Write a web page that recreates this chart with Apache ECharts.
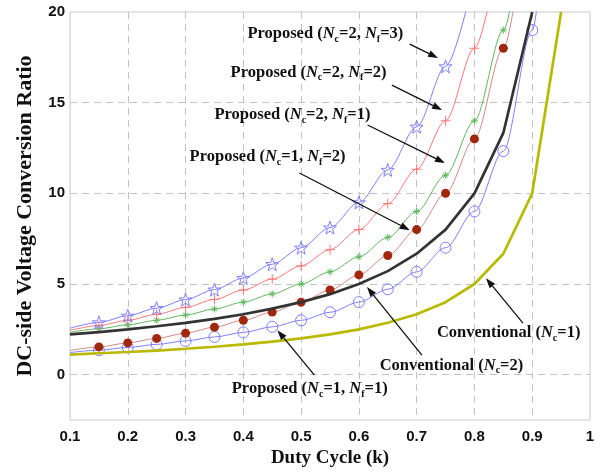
<!DOCTYPE html>
<html>
<head>
<meta charset="utf-8">
<script src="https://cdn.jsdelivr.net/npm/echarts@6/dist/echarts.min.js"></script>
<style>
  html, body { margin: 0; padding: 0; background: #ffffff; }
  #chart { width: 601px; height: 474px; }
</style>
</head>
<body>
<div id="chart"></div>
<script>
// Duty cycle k, sampled every 0.05
const dutyCycle = [0.10, 0.15, 0.20, 0.25, 0.30, 0.35, 0.40, 0.45, 0.50,
                   0.55, 0.60, 0.65, 0.70, 0.75, 0.80, 0.85, 0.90, 0.95];

// Voltage conversion ratio of each topology (same k sampling, curves run off the top at 20)
const conventionalNc1 = [1.11, 1.18, 1.25, 1.33, 1.43, 1.54, 1.67, 1.82, 2.00,
                         2.22, 2.50, 2.86, 3.33, 4.00, 5.00, 6.67, 10.0, 20.0];
const conventionalNc2 = [2.22, 2.35, 2.50, 2.67, 2.86, 3.08, 3.33, 3.64, 4.00,
                         4.44, 5.00, 5.71, 6.67, 8.00, 10.0, 13.33, 20.0];
const proposedNc1Nf1 = [1.22, 1.35, 1.50, 1.67, 1.86, 2.08, 2.33, 2.64, 3.00,
                        3.44, 4.00, 4.71, 5.67, 7.00, 9.00, 12.33, 19.0, 39.0];
const proposedNc1Nf2 = [1.33, 1.53, 1.75, 2.00, 2.29, 2.62, 3.00, 3.45, 4.00,
                        4.67, 5.50, 6.57, 8.00, 10.0, 13.0, 18.0, 28.0];
const proposedNc2Nf1 = [2.33, 2.53, 2.75, 3.00, 3.29, 3.62, 4.00, 4.45, 5.00,
                        5.67, 6.50, 7.57, 9.00, 11.0, 14.0, 19.0, 29.0];
const proposedNc2Nf2 = [2.44, 2.71, 3.00, 3.33, 3.71, 4.15, 4.67, 5.27, 6.00,
                        6.89, 8.00, 9.43, 11.33, 14.0, 18.0, 24.67];
const proposedNc2Nf3 = [2.56, 2.88, 3.25, 3.67, 4.14, 4.69, 5.33, 6.09, 7.00,
                        8.11, 9.50, 11.29, 13.67, 17.0, 22.0];

// Axis ticks
const xTicks = [0.1, 0.2, 0.3, 0.4, 0.5, 0.6, 0.7, 0.8, 0.9, 1];
const yTickLabels = [0, 5, 10, 15, 20];
const yGridLines = [0, 5, 10, 15];

const serif = '"Liberation Serif", "Times New Roman", serif';
const sans = '"Liberation Sans", Arial, sans-serif';

const BLUE = '#7f7fff';
const RED = '#ff7878';
const GREEN = '#5fb85f';
const DARKRED = '#a0260c';
const DOTLINE = '#d08a80';
const BLACK = '#333333';
const OLIVE = '#b9b900';

const STAR = 'path://M5,0L6.18,3.38L9.76,3.45L6.9,5.62L7.94,9.05L5,7L2.06,9.05L3.1,5.62L0.24,3.45L3.82,3.38Z';
const PLUS = 'path://M5,0L5,10M0,5L10,5';
const ASTERISK = 'path://M5,0L5,10M0,5L10,5M1.5,1.5L8.5,8.5M1.5,8.5L8.5,1.5';

// Pair k with ratio; the k = 0.1 start point carries no marker
function pairs(values, markFirst) {
  return values.map((v, i) => {
    const item = { value: [dutyCycle[i], v] };
    if (i === 0 && !markFirst) item.symbol = 'none';
    return item;
  });
}

function markedCurve(name, values, lineColor, symbol, size, itemStyle) {
  return {
    name, type: 'line', z: 3, clip: true,
    data: pairs(values, false),
    smooth: 0.3, smoothMonotone: 'x',
    showSymbol: true, symbol, symbolSize: size,
    lineStyle: { color: lineColor, width: 1 },
    itemStyle,
    emphasis: { disabled: true },
    silent: true
  };
}

function plainCurve(name, values, color) {
  return {
    name, type: 'line', z: 4, clip: true,
    data: values.map((v, i) => [dutyCycle[i], v]),
    showSymbol: false, symbol: 'none',
    lineStyle: { color, width: 2.7 },
    emphasis: { disabled: true },
    silent: true
  };
}

const series = [
  {
    name: 'grid', type: 'line', z: 1, data: [], silent: true,
    markLine: {
      z: 1, silent: true, symbol: 'none', animation: false,
      label: { show: false },
      lineStyle: { color: '#c2c2c2', width: 1, type: [7, 5] },
      data: yGridLines.map(v => ({ yAxis: v }))
    }
  },
  plainCurve('Conventional (Nc=1)', conventionalNc1, OLIVE),
  plainCurve('Conventional (Nc=2)', conventionalNc2, BLACK),
  markedCurve('Proposed (Nc=1, Nf=1)', proposedNc1Nf1, BLUE, 'circle', 11,
    { color: 'rgba(0,0,0,0)', borderColor: BLUE, borderWidth: 1 }),
  markedCurve('Proposed (Nc=1, Nf=2)', proposedNc1Nf2, DOTLINE, 'circle', 9,
    { color: DARKRED, borderColor: DARKRED, borderWidth: 0 }),
  markedCurve('Proposed (Nc=2, Nf=1)', proposedNc2Nf1, GREEN, ASTERISK, 7,
    { color: 'none', borderColor: GREEN, borderWidth: 1 }),
  markedCurve('Proposed (Nc=2, Nf=2)', proposedNc2Nf2, RED, PLUS, 10,
    { color: 'none', borderColor: RED, borderWidth: 1 }),
  markedCurve('Proposed (Nc=2, Nf=3)', proposedNc2Nf3, BLUE, STAR, 13,
    { color: 'rgba(0,0,0,0)', borderColor: BLUE, borderWidth: 1 })
];

const chart = echarts.init(document.getElementById('chart'), null, { renderer: 'canvas' });

chart.setOption({
  animation: false,
  backgroundColor: '#ffffff',
  grid: {
    left: 70, right: 11, top: 12, bottom: 54,
    show: true, borderColor: '#c8c8c8', borderWidth: 1, backgroundColor: 'transparent'
  },
  xAxis: {
    type: 'value', min: xTicks[0], max: xTicks[xTicks.length - 1], interval: 0.1,
    axisLine: { show: false }, axisTick: { show: false },
    axisLabel: {
      margin: 9, color: '#111', fontFamily: sans, fontWeight: 'bold', fontSize: 15,
      formatter: v => {
        const t = xTicks.find(x => Math.abs(x - v) < 1e-6);
        return t === undefined ? '' : String(t);
      }
    },
    splitLine: {
      show: true, showMinLine: false, showMaxLine: false,
      lineStyle: { color: '#c2c2c2', width: 1, type: [7, 5] }
    },
    name: 'Duty Cycle (k)', nameLocation: 'middle', nameGap: 28,
    nameTextStyle: { fontFamily: serif, fontWeight: 'bold', fontSize: 19, color: '#111' }
  },
  yAxis: {
    type: 'value', min: -2.5, max: 20, interval: 2.5,
    axisLine: { show: false }, axisTick: { show: false },
    axisLabel: {
      margin: 5, color: '#111', fontFamily: sans, fontWeight: 'bold', fontSize: 15,
      formatter: v => (yTickLabels.some(t => Math.abs(t - v) < 1e-6) ? String(Math.round(v)) : '')
    },
    splitLine: { show: false },
    name: 'DC-side Voltage Conversion Ratio', nameLocation: 'middle', nameGap: 34,
    nameTextStyle: { fontFamily: serif, fontWeight: 'bold', fontSize: 22, color: '#111' }
  },
  series
});

// Annotation labels with arrows, anchored in data coordinates (k, ratio)
function proposedLabel(nc, nf) {
  return '{t|Proposed (}{i|N}{s|c}{t|=' + nc + ', }{i|N}{s|f}{t|=' + nf + ')}';
}
function conventionalLabel(nc) {
  return '{t|Conventional (}{i|N}{s|c}{t|=' + nc + ')}';
}

const annotations = [
  { text: proposedLabel(2, 3), at: [0.407, 18.79], from: [0.688, 18.23], to: [0.737, 17.46] },
  { text: proposedLabel(2, 2), at: [0.378, 16.66], from: [0.657, 15.97], to: [0.744, 14.59] },
  { text: proposedLabel(2, 1), at: [0.350, 14.32], from: [0.615, 13.77], to: [0.749, 11.67] },
  { text: proposedLabel(1, 2), at: [0.307, 12.00], from: [0.497, 11.12], to: [0.688, 7.97] },
  { text: proposedLabel(1, 1), at: [0.380, -0.80], from: [0.523, -0.03], to: [0.459, 2.455] },
  { text: conventionalLabel(2), at: [0.636, 0.52], from: [0.709, 1.08], to: [0.614, 4.83] },
  { text: conventionalLabel(1), at: [0.735, 2.29], from: [0.884, 2.84], to: [0.820, 5.32] }
];

const richStyles = {
  t: { fontFamily: serif, fontWeight: 'bold', fontSize: 16.5, lineHeight: 20, fill: '#111' },
  i: { fontFamily: serif, fontWeight: 'bold', fontStyle: 'italic', fontSize: 16.5, lineHeight: 20, fill: '#111' },
  s: { fontFamily: serif, fontWeight: 'bold', fontSize: 10, lineHeight: 11, verticalAlign: 'bottom', fill: '#111' }
};

const graphics = [];
annotations.forEach(a => {
  const p = chart.convertToPixel({ gridIndex: 0 }, a.at);
  const f = chart.convertToPixel({ gridIndex: 0 }, a.from);
  const t = chart.convertToPixel({ gridIndex: 0 }, a.to);
  graphics.push({
    type: 'text', x: p[0], y: p[1], z: 10, silent: true,
    style: {
      text: a.text, rich: richStyles,
      align: 'left', verticalAlign: 'middle',
      textAlign: 'left', textVerticalAlign: 'middle',
      fill: '#111'
    }
  });
  const dx = t[0] - f[0], dy = t[1] - f[1];
  const len = Math.sqrt(dx * dx + dy * dy);
  const ux = dx / len, uy = dy / len;
  const headLen = 10, headHalf = 3.5;
  const bx = t[0] - ux * headLen, by = t[1] - uy * headLen;
  graphics.push({
    type: 'line', z: 10, silent: true,
    shape: { x1: f[0], y1: f[1], x2: bx, y2: by },
    style: { stroke: '#111', lineWidth: 1.3 }
  });
  graphics.push({
    type: 'polygon', z: 10, silent: true,
    shape: { points: [[t[0], t[1]], [bx - uy * headHalf, by + ux * headHalf], [bx + uy * headHalf, by - ux * headHalf]] },
    style: { fill: '#111' }
  });
});

chart.setOption({ graphic: { elements: graphics } });
</script>
</body>
</html>
